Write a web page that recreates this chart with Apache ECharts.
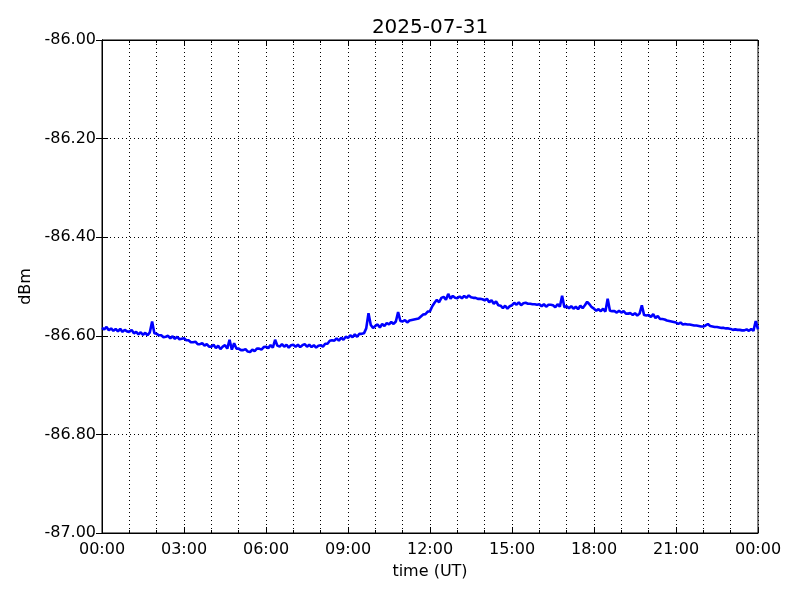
<!DOCTYPE html>
<html>
<head>
<meta charset="utf-8">
<script src="https://cdn.jsdelivr.net/npm/echarts@6/dist/echarts.min.js"></script>
<style>html,body{margin:0;padding:0;background:#fff}#c{width:800px;height:600px}</style>
</head>
<body>
<div id="c"></div>
<script>
// chart title and axis names
const titleText = '2025-07-31';
const xName = 'time (UT)';
const yName = 'dBm';
// x axis: minutes since 00:00, sampled every 5 minutes
const sampleStepMin = 5;
const xTickLabels = ['00:00','03:00','06:00','09:00','12:00','15:00','18:00','21:00','00:00'];
// y axis
const yMin = -87, yMax = -86, yStep = 0.2;
// signal level (dBm), one row per hour, 12 samples each (5-minute spacing), plus final 24:00 sample
const h00 = [-86.584,-86.587,-86.582,-86.589,-86.585,-86.590,-86.586,-86.591,-86.586,-86.592,-86.588,-86.591];
const h01 = [-86.592,-86.588,-86.595,-86.592,-86.597,-86.593,-86.598,-86.594,-86.599,-86.593,-86.571,-86.595];
const h02 = [-86.596,-86.599,-86.599,-86.603,-86.602,-86.600,-86.605,-86.601,-86.606,-86.602,-86.607,-86.606];
const h03 = [-86.605,-86.609,-86.609,-86.613,-86.613,-86.612,-86.617,-86.617,-86.615,-86.620,-86.617,-86.622];
const h04 = [-86.622,-86.618,-86.625,-86.620,-86.627,-86.622,-86.619,-86.626,-86.608,-86.628,-86.615,-86.626];
const h05 = [-86.626,-86.629,-86.629,-86.627,-86.632,-86.633,-86.628,-86.631,-86.626,-86.626,-86.628,-86.623];
const h06 = [-86.622,-86.625,-86.619,-86.624,-86.608,-86.620,-86.622,-86.617,-86.622,-86.618,-86.624,-86.619];
const h07 = [-86.618,-86.622,-86.618,-86.623,-86.619,-86.617,-86.622,-86.618,-86.623,-86.619,-86.624,-86.620];
const h08 = [-86.619,-86.622,-86.616,-86.616,-86.610,-86.609,-86.610,-86.605,-86.610,-86.604,-86.608,-86.602];
const h09 = [-86.604,-86.599,-86.603,-86.597,-86.602,-86.596,-86.596,-86.595,-86.585,-86.554,-86.578,-86.584];
const h10 = [-86.580,-86.577,-86.583,-86.576,-86.580,-86.574,-86.577,-86.572,-86.576,-86.571,-86.552,-86.570];
const h11 = [-86.571,-86.568,-86.573,-86.569,-86.568,-86.567,-86.566,-86.565,-86.561,-86.557,-86.556,-86.551];
const h12 = [-86.550,-86.540,-86.533,-86.527,-86.532,-86.523,-86.521,-86.527,-86.515,-86.525,-86.519,-86.523];
const h13 = [-86.524,-86.520,-86.524,-86.519,-86.523,-86.518,-86.522,-86.523,-86.523,-86.525,-86.525,-86.526];
const h14 = [-86.528,-86.525,-86.532,-86.528,-86.535,-86.530,-86.538,-86.539,-86.544,-86.539,-86.545,-86.540];
const h15 = [-86.538,-86.533,-86.537,-86.532,-86.538,-86.534,-86.533,-86.535,-86.535,-86.536,-86.536,-86.537];
const h16 = [-86.536,-86.540,-86.536,-86.541,-86.537,-86.537,-86.538,-86.542,-86.536,-86.541,-86.519,-86.542];
const h17 = [-86.540,-86.544,-86.540,-86.545,-86.541,-86.546,-86.539,-86.544,-86.538,-86.531,-86.536,-86.542];
const h18 = [-86.545,-86.549,-86.546,-86.550,-86.545,-86.551,-86.525,-86.549,-86.550,-86.550,-86.553,-86.549];
const h19 = [-86.553,-86.550,-86.555,-86.555,-86.554,-86.558,-86.554,-86.559,-86.555,-86.538,-86.558,-86.559];
const h20 = [-86.558,-86.562,-86.556,-86.564,-86.560,-86.566,-86.566,-86.567,-86.569,-86.570,-86.571,-86.572];
const h21 = [-86.573,-86.576,-86.573,-86.577,-86.576,-86.577,-86.577,-86.578,-86.579,-86.579,-86.580,-86.581];
const h22 = [-86.581,-86.579,-86.576,-86.580,-86.581,-86.582,-86.582,-86.583,-86.584,-86.584,-86.585,-86.585];
const h23 = [-86.586,-86.588,-86.587,-86.588,-86.588,-86.589,-86.589,-86.587,-86.590,-86.586,-86.590,-86.570];
const hEnd = [-86.587];

const dbm = [].concat(h00,h01,h02,h03,h04,h05,h06,h07,h08,h09,h10,h11,h12,h13,h14,h15,h16,h17,h18,h19,h20,h21,h22,h23,hEnd);
const seriesData = dbm.map((v, i) => [i * sampleStepMin, v]);

const font = 'DejaVu Sans';
const dotted = { color: '#000', width: 1, type: [1, 3] };
const chart = echarts.init(document.getElementById('c'), null, { renderer: 'canvas' });
const xBase = {
  type: 'value', min: 0, max: 1440, interval: 180,
  axisLine: { show: true, lineStyle: { color: '#000', width: 1 } },
  axisTick: { show: true, inside: true, length: 6, lineStyle: { color: '#000' } },
  minorTick: { show: true, splitNumber: 3, length: 3, lineStyle: { color: '#000' } }
};
const yBase = {
  type: 'value', min: yMin, max: yMax, interval: yStep,
  axisLine: { show: true, lineStyle: { color: '#000', width: 1 } },
  axisTick: { show: true, inside: true, length: 6, lineStyle: { color: '#000' } }
};
chart.setOption({
  animation: false,
  backgroundColor: '#fff',
  title: {
    text: titleText, left: 425, top: 13, textAlign: 'center',
    textStyle: { fontFamily: font, fontSize: 20, fontWeight: 'normal', color: '#000' }
  },
  grid: { left: 102, right: 42, top: 40, bottom: 67, show: true, borderColor: '#000', borderWidth: 1, backgroundColor: 'transparent' },
  xAxis: [
    Object.assign({}, xBase, {
      position: 'bottom',
      name: xName, nameLocation: 'middle', nameGap: 31,
      nameTextStyle: { fontFamily: font, fontSize: 16, color: '#000' },
      axisLabel: { show: true, margin: 9, fontFamily: font, fontSize: 16, color: '#000',
        formatter: v => xTickLabels[Math.round(v / 180)] },
      splitLine: { show: true, lineStyle: dotted },
      minorSplitLine: { show: true, lineStyle: dotted }
    }),
    Object.assign({}, xBase, {
      position: 'top', axisLabel: { show: false }, splitLine: { show: false }
    })
  ],
  yAxis: [
    Object.assign({}, yBase, {
      position: 'left',
      name: yName, nameLocation: 'middle', nameGap: 67, nameRotate: 90,
      nameTextStyle: { fontFamily: font, fontSize: 16, color: '#000' },
      axisLabel: { show: true, margin: 6, fontFamily: font, fontSize: 16, color: '#000',
        formatter: v => v.toFixed(2) },
      splitLine: { show: true, lineStyle: dotted }
    }),
    Object.assign({}, yBase, {
      position: 'right', axisLabel: { show: false }, splitLine: { show: false }
    })
  ],
  series: [{
    type: 'line', data: seriesData, xAxisIndex: 0, yAxisIndex: 0,
    showSymbol: false, symbol: 'none',
    lineStyle: { color: '#0000ff', width: 2.6 }
  }]
});
</script>
</body>
</html>
